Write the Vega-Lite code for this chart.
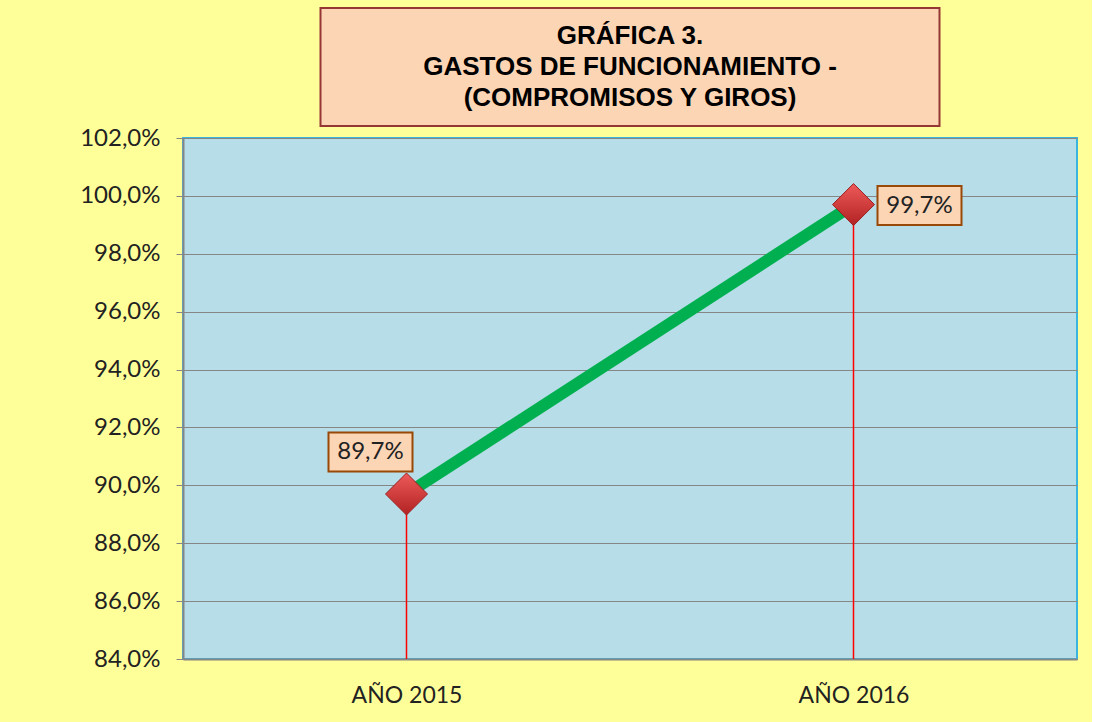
{
  "$schema": "https://vega.github.io/schema/vega-lite/v6.json",
  "background": "#FFFF99",
  "padding": {"left": 78, "top": 7, "right": 14, "bottom": 17},
  "config": {
    "locale": {"number": {"decimal": ",", "thousands": ".", "grouping": [3], "currency": ["", " €"]}},
    "font": "Lato"
  },
  "bounds": "flush",
  "center": true,
  "spacing": 12,
  "vconcat": [
    {
      "width": 619,
      "height": 118,
      "view": {"fill": "#FCD5B5", "stroke": "#953735", "strokeWidth": 2},
      "data": {"values": [{"lines": ["GRÁFICA 3.", "GASTOS DE FUNCIONAMIENTO -", "(COMPROMISOS Y GIROS)"]}]},
      "mark": {"type": "text", "font": "Liberation Sans", "fontWeight": "bold", "fontSize": 26, "lineHeight": 31, "color": "#000000", "align": "center", "baseline": "middle", "dy": -31},
      "encoding": {"text": {"field": "lines"}}
    },
    {
      "width": 894,
      "height": 521,
      "view": {"fill": "#B7DDE8", "stroke": "#3CB4E0", "strokeWidth": 2},
      "data": {"values": [
        {"anio": "AÑO 2015", "valor": 0.897},
        {"anio": "AÑO 2016", "valor": 0.997}
      ]},
      "encoding": {
        "x": {"field": "anio", "type": "nominal", "sort": null,
          "scale": {"type": "point", "padding": 0.5},
          "axis": {"title": null, "labelAngle": 0, "ticks": false, "domain": true, "domainColor": "#868686", "domainWidth": 2, "grid": false,
            "labelFontSize": 23, "labelColor": "#222222", "labelPadding": 25, "labelFont": "Lato"}},
        "y": {"field": "valor", "type": "quantitative",
          "scale": {"domain": [0.84, 1.02], "nice": false, "zero": false},
          "axis": {"title": null, "values": [0.84, 0.86, 0.88, 0.9, 0.92, 0.94, 0.96, 0.98, 1.0, 1.02], "format": ".1%",
            "labelFontSize": 24, "labelColor": "#222222", "labelPadding": 16, "labelFont": "Lato",
            "tickSize": 7, "tickColor": "#868686", "domainColor": "#868686", "domainWidth": 2,
            "grid": true, "gridColor": "#868686", "gridWidth": 1, "gridOpacity": 1}}
      },
      "layer": [
        {"mark": {"type": "rule", "color": "#FF0000", "strokeWidth": 1.5, "opacity": 1},
          "encoding": {"y2": {"datum": 0.84}}},
        {"mark": {"type": "line", "color": "#00B050", "strokeWidth": 12}},
        {"mark": {"type": "point", "shape": "diamond", "size": 1764, "filled": true, "opacity": 1,
          "fill": {"gradient": "linear", "x1": 0, "y1": 0, "x2": 0, "y2": 1, "stops": [{"offset": 0, "color": "#EE5A5A"}, {"offset": 1, "color": "#B22222"}]},
          "stroke": "#9B2020", "strokeWidth": 1}},
        {"transform": [{"filter": "datum.anio == 'AÑO 2015'"}],
          "mark": {"type": "point", "shape": "M-1,-0.464L1,-0.464L1,0.464L-1,0.464Z", "size": 7056, "filled": true, "opacity": 1,
            "fill": "#FCD5B5", "stroke": "#984807", "strokeWidth": 2, "xOffset": -36, "yOffset": -42}},
        {"transform": [{"filter": "datum.anio == 'AÑO 2016'"}],
          "mark": {"type": "point", "shape": "M-1,-0.464L1,-0.464L1,0.464L-1,0.464Z", "size": 7056, "filled": true, "opacity": 1,
            "fill": "#FCD5B5", "stroke": "#984807", "strokeWidth": 2, "xOffset": 66, "yOffset": 1}},
        {"transform": [{"filter": "datum.anio == 'AÑO 2015'"}],
          "mark": {"type": "text", "fontSize": 24, "font": "Lato", "color": "#222222", "xOffset": -36, "yOffset": -42, "align": "center", "baseline": "middle"},
          "encoding": {"text": {"field": "valor", "format": ".1%"}}},
        {"transform": [{"filter": "datum.anio == 'AÑO 2016'"}],
          "mark": {"type": "text", "fontSize": 24, "font": "Lato", "color": "#222222", "xOffset": 66, "yOffset": 1, "align": "center", "baseline": "middle"},
          "encoding": {"text": {"field": "valor", "format": ".1%"}}}
      ]
    }
  ]
}
